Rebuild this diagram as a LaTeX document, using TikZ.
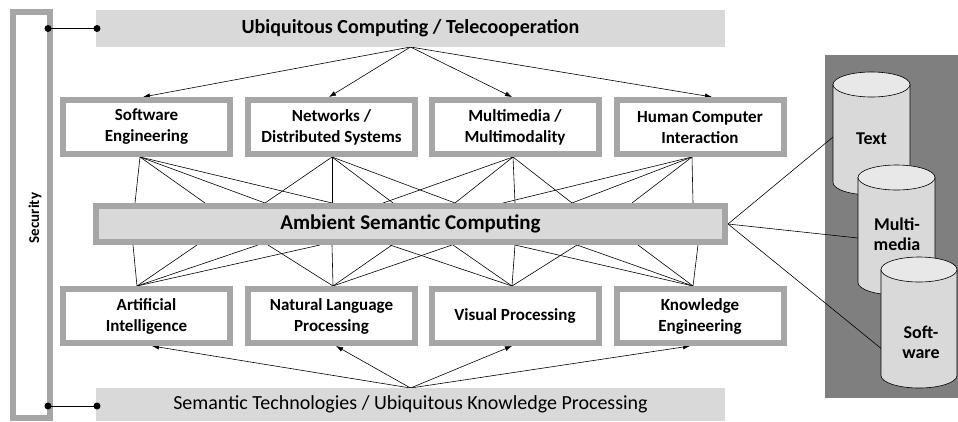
\documentclass[tikz,border=0pt]{standalone}
\usepackage{fontspec}
\setmainfont{Carlito}
\usetikzlibrary{arrows.meta,calc,backgrounds}
\definecolor{bordergray}{HTML}{A6A6A6}
\definecolor{barfill}{HTML}{D9D9D9}
\definecolor{panelgray}{HTML}{7F7F7F}
\definecolor{cylbodyc}{HTML}{D9D9D9}
\definecolor{cyltopc}{HTML}{E8E8E8}
\begin{document}
\begin{tikzpicture}[x=1pt,y=-1pt,
  box/.style={draw=bordergray, line width=6pt, fill=white, minimum width=167pt,
    minimum height=54pt, inner sep=0pt, outer sep=3pt, align=center,
    font=\fontsize{17}{21}\selectfont\bfseries},
  bar/.style={fill=barfill, minimum width=629pt, inner sep=0pt, outer sep=0pt},
  ambbar/.style={draw=bordergray, line width=6pt, fill=barfill, minimum width=629pt,
    minimum height=36pt, inner sep=0pt, outer sep=3pt,
    font=\fontsize{21}{24}\selectfont\bfseries},
  secbar/.style={draw=bordergray, line width=6pt, fill=white, minimum width=37pt,
    minimum height=406pt, inner sep=0pt, outer sep=3pt},
  arr/.style={line width=0.6pt, -{Latex[length=7pt,width=5pt]}},
  net/.style={line width=0.6pt},
  dotline/.style={line width=0.8pt},
  cylbody/.style={fill=cylbodyc, draw=black, line width=0.6pt},
  cyltop/.style={fill=cyltopc, draw=black, line width=0.6pt},
  cyllabel/.style={align=center, font=\fontsize{18}{20}\selectfont\bfseries}
]
\useasboundingbox (0,0) rectangle (958,421);

% security frame
\node[secbar] (sec) at (31.5,215) {};
\node[rotate=90, font=\fontsize{15}{17}\selectfont\bfseries] (sectext) at (35,218) {Security};

% top and bottom bars
\node[bar, minimum height=37pt, font=\fontsize{20}{23}\selectfont\bfseries] (ubi) at (410.5,28.5)
  {Ubiquitous Computing / Telecooperation};
\node[bar, minimum height=33pt, font=\fontsize{20}{23}\selectfont] (sem) at (410.5,404.5)
  {Semantic Technologies / Ubiquitous Knowledge Processing};

% middle bar
\node[ambbar] (amb) at (410.5,224) {Ambient Semantic Computing};

% top boxes
\node[box] (se)  at (146.5,127) {Software\\Engineering};
\node[box] (nd)  at (331.5,127) {Networks /\\Distributed Systems};
\node[box] (mm)  at (515,127)   {Multimedia /\\Multimodality};
\node[box] (hci) at (700,127)   {Human Computer\\Interaction};

% bottom boxes
\node[box] (ai)  at (146.5,316) {Artificial\\Intelligence};
\node[box] (nlp) at (331.5,316) {Natural Language\\Processing};
\node[box] (vp)  at (515,316)   {Visual Processing};
\node[box] (ke)  at (700,316)   {Knowledge\\Engineering};

% coordinates on the cylinders
\coordinate (ctxt) at (833,137);
\coordinate (cmm) at (858,238);
\coordinate (csw) at (883,350);

\begin{pgfonlayer}{background}
  \fill[panelgray] (825,55) rectangle (958,398);
  % arrows from top bar
  \foreach \n/\dx in {se/-3.5, nd/-2.5, mm/-3, hci/12}
    \draw[arr] (ubi.south) -- ([xshift=\dx pt]\n.north);
  % arrows from bottom bar
  \foreach \n/\dx in {ai/5.5, nlp/4.5, vp/-3, ke/-10}
    \draw[arr] (sem.north) -- ([xshift=\dx pt]\n.south);
  % network top
  \foreach \n/\dx/\pts in {se/-6.5/{42,112,172,239}, nd/0.5/{172,239,300,362},
      mm/-2/{290,362,422,479}, hci/-8/{410,479,539,600}}
    \foreach \p in \pts
      \draw[net] ([xshift=\dx pt]\n.south) -- ($(amb.north west)+(\p,0)$);
  % network bottom
  \foreach \n/\dx/\pts in {ai/-9.5/{40,104,165,227}, nlp/1.5/{175,239,299,359},
      vp/-3/{297,360,422,484}, ke/-7/{422,484,545,605}}
    \foreach \p in \pts
      \draw[net] ([xshift=\dx pt]\n.north) -- ($(amb.south west)+(\p,0)$);
  % lines to cylinders
  \draw[net] (amb.east) -- (ctxt);
  \draw[net] (amb.east) -- (cmm);
  \draw[net] (amb.east) -- (csw);
\end{pgfonlayer}

% dot connectors
\coordinate (d1) at ($(sec.east |- ubi.west)+(-5,0)$);
\coordinate (d2) at ($(ubi.west)+(1,0)$);
\draw[dotline] (d1) -- (d2);
\fill (d1) circle (3.5pt);
\fill (d2) circle (3.5pt);
\coordinate (d3) at ($(sec.east |- sem.west)+(-5,1.5)$);
\coordinate (d4) at ($(sem.west)+(1,1.5)$);
\draw[dotline] (d3) -- (d4);
\fill (d3) circle (3.5pt);
\fill (d4) circle (3.5pt);

% cylinders
% Text
\filldraw[cylbody] (833,84.5) -- (833,182.5) arc[start angle=180, end angle=360, x radius=38.5pt, y radius=12.5pt] -- (910,84.5) -- cycle;
\filldraw[cyltop] (871.5,84.5) ellipse [x radius=38.5pt, y radius=12.5pt];
\node[cyllabel] (ltxt) at (871.5,139) {Text};
% Multimedia
\filldraw[cylbody] (858,177.5) -- (858,282.5) arc[start angle=180, end angle=360, x radius=38.5pt, y radius=12.5pt] -- (935,177.5) -- cycle;
\filldraw[cyltop] (896.5,177.5) ellipse [x radius=38.5pt, y radius=12.5pt];
\node[cyllabel] (lmm) at (897,234) {Multi-\\media};
% Software
\filldraw[cylbody] (881,269.5) -- (881,375.5) arc[start angle=180, end angle=360, x radius=38pt, y radius=12.5pt] -- (957,269.5) -- cycle;
\filldraw[cyltop] (919,269.5) ellipse [x radius=38pt, y radius=12.5pt];
\node[cyllabel] (lsw) at (921,342) {Soft-\\ware};
\end{tikzpicture}
\end{document}
